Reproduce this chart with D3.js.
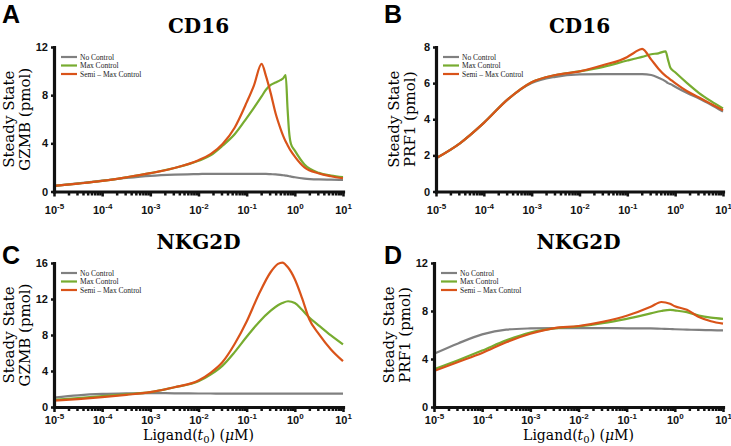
<!DOCTYPE html>
<html>
<head>
<meta charset="utf-8">
<script src="https://cdn.jsdelivr.net/npm/d3@7"></script>
<style>
  body { margin: 0; background: #fff; }
  .tick text { font: bold 11px "Liberation Sans", Arial, sans-serif; fill: #111; }
  .title { font: bold 20px "DejaVu Serif", serif; text-anchor: middle; }
  .letter { font: bold 25px "Liberation Sans", Arial, sans-serif; }
  .ylab { font: 15px "DejaVu Serif", serif; text-anchor: middle; }
  .xlab { font: 14px "DejaVu Serif", serif; text-anchor: middle; }
  .leg { font: 7.5px "Liberation Serif", serif; fill: #222; }
</style>
</head>
<body>
<svg width="731" height="446"></svg>
<script>
// ligand concentration grid, as log10(uM), one per panel
var expA = [-5, -4.5, -4, -3.5, -3, -2.5, -2, -1.75, -1.5, -1.25, -1, -0.85, -0.69, -0.6, -0.5, -0.4, -0.3, -0.24, -0.19, -0.15, -0.12, -0.08, 0, 0.2, 0.5, 0.75, 1];
var expB = [-5, -4.5, -4, -3.5, -3, -2.5, -2, -1.5, -1, -0.85, -0.69, -0.5, -0.35, -0.2, -0.15, -0.1, 0, 0.25, 0.5, 0.75, 1];
var expC = [-5, -4.5, -4, -3.5, -3, -2.5, -2, -1.75, -1.5, -1.25, -1, -0.75, -0.5, -0.35, -0.26, -0.14, 0, 0.15, 0.3, 0.5, 0.75, 1];
var expD = [-5, -4.5, -4, -3.5, -3, -2.5, -2, -1.5, -1, -0.5, -0.28, -0.1, 0, 0.25, 0.5, 0.75, 1];

// A: CD16, GZMB
var gzmbCD16None = [0.47, 0.68, 0.9, 1.12, 1.3, 1.4, 1.45, 1.47, 1.47, 1.47, 1.47, 1.47, 1.47, 1.46, 1.44, 1.42, 1.38, 1.35, 1.32, 1.3, 1.27, 1.24, 1.18, 1.07, 1.0, 0.98, 0.96];
var gzmbCD16Max  = [0.47, 0.66, 0.88, 1.18, 1.52, 1.95, 2.55, 3.0, 3.8, 4.75, 6.1, 6.95, 7.9, 8.45, 8.85, 9.05, 9.25, 9.4, 9.67, 6.8, 5.0, 3.95, 3.4, 2.25, 1.55, 1.33, 1.2];
var gzmbCD16Semi = [0.47, 0.66, 0.88, 1.18, 1.52, 1.95, 2.6, 3.1, 3.95, 5.3, 7.4, 8.8, 10.6, 9.6, 8.15, 6.5, 5.25, 4.6, 4.15, 3.85, 3.62, 3.35, 2.9, 2.0, 1.5, 1.27, 1.1];

// B: CD16, PRF1
var prf1CD16None = [1.84, 2.67, 3.8, 5.1, 6.0, 6.35, 6.48, 6.5, 6.5, 6.5, 6.5, 6.45, 6.3, 6.1, 6.0, 5.95, 5.8, 5.45, 5.15, 4.8, 4.42];
var prf1CD16Max  = [1.84, 2.67, 3.8, 5.1, 6.05, 6.45, 6.65, 6.9, 7.25, 7.35, 7.45, 7.6, 7.65, 7.76, 7.3, 6.85, 6.6, 6.0, 5.45, 5.0, 4.6];
var prf1CD16Semi = [1.84, 2.67, 3.8, 5.1, 6.05, 6.45, 6.65, 7.0, 7.45, 7.7, 7.9, 7.3, 6.8, 6.4, 6.3, 6.2, 6.0, 5.55, 5.2, 4.85, 4.5];

// C: NKG2D, GZMB
var gzmbNKG2DNone = [1.05, 1.3, 1.45, 1.52, 1.55, 1.52, 1.5, 1.5, 1.49, 1.49, 1.48, 1.48, 1.48, 1.48, 1.48, 1.48, 1.48, 1.48, 1.48, 1.48, 1.48, 1.48];
var gzmbNKG2DMax  = [0.8, 1.0, 1.2, 1.4, 1.65, 2.2, 2.85, 3.6, 4.6, 6.1, 7.8, 9.4, 10.7, 11.3, 11.55, 11.75, 11.55, 10.8, 9.95, 9.05, 7.95, 6.95];
var gzmbNKG2DSemi = [0.7, 0.88, 1.1, 1.35, 1.65, 2.2, 2.95, 3.8, 5.0, 7.0, 9.5, 12.5, 15.0, 15.9, 16.05, 15.5, 14.2, 12.1, 9.75, 8.1, 6.4, 5.1];

// D: NKG2D, PRF1
var prf1NKG2DNone = [4.44, 5.3, 6.05, 6.45, 6.55, 6.58, 6.58, 6.58, 6.56, 6.55, 6.52, 6.5, 6.48, 6.45, 6.42, 6.4, 6.38];
var prf1NKG2DMax  = [3.14, 3.9, 4.7, 5.55, 6.2, 6.55, 6.72, 6.98, 7.35, 7.8, 8.0, 8.1, 8.05, 7.9, 7.62, 7.45, 7.35];
var prf1NKG2DSemi = [3.0, 3.75, 4.5, 5.4, 6.1, 6.58, 6.75, 7.1, 7.6, 8.35, 8.75, 8.6, 8.4, 8.1, 7.5, 7.15, 6.95];

var seriesNames = ["No Control", "Max Control", "Semi \u2013 Max Control"];
var seriesColors = ["#808080", "#77ac30", "#d95319"];
var decadeExps = [-5, -4, -3, -2, -1, 0, 1];

var panels = [
  { letter: "A", title: "CD16", ylab: "GZMB (pmol)", yMax: 12, yTicks: [0, 4, 8, 12], exps: expA,
    data: [gzmbCD16None, gzmbCD16Max, gzmbCD16Semi], x0: 54, x1: 343, y0: 47, y1: 191.5, labOff: 0, xlab: false },
  { letter: "B", title: "CD16", ylab: "PRF1 (pmol)", yMax: 8, yTicks: [0, 2, 4, 6, 8], exps: expB,
    data: [prf1CD16None, prf1CD16Max, prf1CD16Semi], x0: 436, x1: 723, y0: 47, y1: 191.5, labOff: 3, xlab: false },
  { letter: "C", title: "NKG2D", ylab: "GZMB (pmol)", yMax: 16, yTicks: [0, 4, 8, 12, 16], exps: expC,
    data: [gzmbNKG2DNone, gzmbNKG2DMax, gzmbNKG2DSemi], x0: 54, x1: 343, y0: 263, y1: 407, labOff: 0, xlab: true },
  { letter: "D", title: "NKG2D", ylab: "PRF1 (pmol)", yMax: 12, yTicks: [0, 4, 8, 12], exps: expD,
    data: [prf1NKG2DNone, prf1NKG2DMax, prf1NKG2DSemi], x0: 434, x1: 723, y0: 263, y1: 407, labOff: 0, xlab: true }
];

var svg = d3.select("svg");

// minor log ticks 2..9 in each decade
var minor = [];
decadeExps.slice(0, -1).forEach(function(e) {
  for (var k = 2; k < 10; k++) minor.push(k * Math.pow(10, e));
});

panels.forEach(function(p) {
  var x = d3.scaleLog().domain([1e-5, 10]).range([p.x0, p.x1]);
  var y = d3.scaleLinear().domain([0, p.yMax]).range([p.y1, p.y0]);
  var g = svg.append("g");

  // curves
  var line = d3.line()
    .x(function(d) { return x(Math.pow(10, d[0])); })
    .y(function(d) { return y(d[1]); })
    .curve(d3.curveMonotoneX);
  p.data.forEach(function(vals, i) {
    g.append("path")
      .datum(p.exps.map(function(e, j) { return [e, vals[j]]; }))
      .attr("d", line)
      .attr("fill", "none")
      .attr("stroke", seriesColors[i])
      .attr("stroke-width", 2.2)
      .attr("stroke-linejoin", "round");
  });

  // x axis: minor ticks, then major ticks
  g.append("g")
    .attr("transform", "translate(0," + p.y1 + ")")
    .call(d3.axisBottom(x).tickValues(minor).tickSize(4).tickSizeOuter(0).tickFormat(""))
    .call(function(a) { a.select(".domain").remove(); a.selectAll("line").attr("stroke-width", 2.5).attr("stroke", "#111"); });
  var xa = g.append("g")
    .attr("transform", "translate(0," + p.y1 + ")")
    .call(d3.axisBottom(x).tickValues(decadeExps.map(function(e) { return Math.pow(10, e); }))
      .tickSize(5).tickSizeOuter(0).tickFormat(""));
  xa.select(".domain").attr("stroke-width", 3.2).attr("stroke", "#111").attr("stroke-linecap", "square");
  xa.selectAll("line").attr("stroke-width", 2.5).attr("stroke", "#111");
  xa.selectAll(".tick").append("text")
    .attr("y", p.xlab ? 17 : 22)
    .attr("text-anchor", "middle")
    .each(function(d, i) {
      var t = d3.select(this);
      t.append("tspan").text("10");
      t.append("tspan").attr("dy", -5).attr("font-size", "8px").text(decadeExps[i]);
    });

  // y axis
  var ya = g.append("g")
    .attr("transform", "translate(" + p.x0 + ",0)")
    .call(d3.axisLeft(y).tickValues(p.yTicks).tickSize(3).tickSizeOuter(0).tickPadding(3));
  ya.select(".domain").attr("stroke-width", 3.2).attr("stroke", "#111").attr("stroke-linecap", "square");
  ya.selectAll("line").attr("stroke-width", 2.5).attr("stroke", "#111");

  // title, panel letter
  svg.append("text").attr("class", "title")
    .attr("x", (p.x0 + p.x1) / 2).attr("y", p.y0 - 14).text(p.title);
  svg.append("text").attr("class", "letter")
    .attr("x", p.x0 < 100 ? 2 : 384).attr("y", p.y0 < 100 ? 23 : 264).text(p.letter);

  // y label, two lines
  var cy = (p.y0 + p.y1) / 2;
  svg.append("text").attr("class", "ylab")
    .attr("transform", "translate(" + (p.x0 - 40 + p.labOff) + "," + cy + ") rotate(-90)")
    .text("Steady State");
  svg.append("text").attr("class", "ylab")
    .attr("transform", "translate(" + (p.x0 - 24 + p.labOff) + "," + cy + ") rotate(-90)")
    .text(p.ylab);

  // x label
  if (p.xlab) {
    var xl = svg.append("text").attr("class", "xlab")
      .attr("x", (p.x0 + p.x1) / 2).attr("y", 440);
    xl.append("tspan").text("Ligand(");
    xl.append("tspan").attr("font-style", "italic").text("t");
    xl.append("tspan").attr("font-size", "10px").attr("dy", 3).text("0");
    xl.append("tspan").attr("dy", -3).text(") (");
    xl.append("tspan").attr("font-style", "italic").text("\u03bc");
    xl.append("tspan").text("M)");
  }

  // legend
  seriesNames.forEach(function(name, i) {
    var ly = p.y0 + 10 + i * 8.5;
    svg.append("line")
      .attr("x1", p.x0 + 7).attr("x2", p.x0 + 23)
      .attr("y1", ly).attr("y2", ly)
      .attr("stroke", seriesColors[i]).attr("stroke-width", 2.2);
    svg.append("text").attr("class", "leg")
      .attr("x", p.x0 + 26).attr("y", ly + 2.5).text(name);
  });
});
</script>
</body>
</html>
